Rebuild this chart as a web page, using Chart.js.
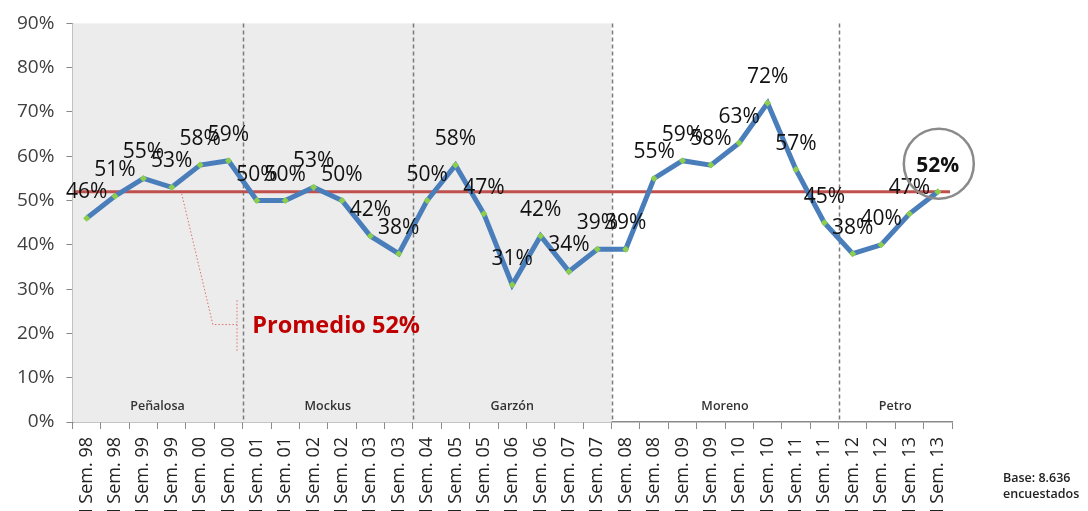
<!DOCTYPE html>
<html>
<head>
<meta charset="utf-8">
<script src="https://cdn.jsdelivr.net/npm/chart.js@4.4.0/dist/chart.umd.min.js"></script>
<style>
  html, body { margin: 0; padding: 0; background: #fff; overflow: hidden; }
  #wrap { position: relative; width: 1088px; height: 511px; }
</style>
</head>
<body>
<div id="wrap"><canvas id="chart"></canvas></div>
<script>
// data
var labels = ['I Sem. 98','II Sem. 98','I Sem. 99','II Sem. 99','I Sem. 00','II Sem. 00',
  'I Sem. 01','II Sem. 01','I Sem. 02','II Sem. 02','I Sem. 03','II Sem. 03',
  'II Sem. 04','I Sem. 05','II Sem. 05','I Sem. 06','II Sem. 06','I Sem. 07','II Sem. 07',
  'I Sem. 08','II Sem. 08','I Sem. 09','II Sem. 09','I Sem. 10','II Sem. 10','I Sem. 11','II Sem. 11',
  'I Sem. 12','II Sem. 12','I Sem. 13','II Sem. 13'];
var values = [46,51,55,53,58,59, 50,50,53,50,42,38, 50,58,47,31,42,34,39, 39,55,59,58,63,72,57,45, 38,40,47,52];
var promedio = 52;
var periods = ['Peñalosa','Mockus','Garzón','Moreno','Petro'];
var periodStarts = [0, 6, 12, 19, 27];
var shadedUntil = 19; // first three periods have grey background
var yTicks = [0,10,20,30,40,50,60,70,80,90];

var font = '"Open Sans", "Liberation Sans", sans-serif';

var decor = {
  id: 'decor',
  beforeDatasetsDraw: function(chart) {
    var ctx = chart.ctx, a = chart.chartArea;
    var xs = chart.scales.x, ys = chart.scales.y;
    ctx.save();
    // grey background
    var xb = xs.getPixelForValue(shadedUntil - 0.5);
    ctx.fillStyle = '#ececec';
    ctx.fillRect(a.left, a.top, xb - a.left, a.bottom - a.top);
    // dashed separators
    ctx.strokeStyle = '#7a7a7a';
    ctx.lineWidth = 1.5;
    ctx.setLineDash([4, 3]);
    for (var i = 1; i < periodStarts.length; i++) {
      var x = Math.round(xs.getPixelForValue(periodStarts[i] - 0.5)) + 0.5;
      ctx.beginPath();
      ctx.moveTo(x, a.top);
      ctx.lineTo(x, a.bottom);
      ctx.stroke();
    }
    ctx.setLineDash([]);
    // period names
    ctx.fillStyle = '#333';
    ctx.font = '600 12.5px ' + font;
    ctx.textAlign = 'center';
    ctx.textBaseline = 'middle';
    for (var j = 0; j < periods.length; j++) {
      var s = periodStarts[j] - 0.5;
      var e = (j + 1 < periodStarts.length ? periodStarts[j + 1] : values.length) - 0.5;
      var x0 = Math.max(xs.getPixelForValue(s), a.left);
      var x1 = Math.min(xs.getPixelForValue(e), a.right);
      ctx.fillText(periods[j], (x0 + x1) / 2, a.bottom - 16);
    }
    // average line
    var yp = ys.getPixelForValue(promedio);
    ctx.strokeStyle = '#c0504d';
    ctx.lineWidth = 3;
    ctx.beginPath();
    ctx.moveTo(a.left + 2, yp);
    ctx.lineTo(a.right - 2, yp);
    ctx.stroke();
    ctx.restore();
  },
  afterDatasetsDraw: function(chart) {
    var ctx = chart.ctx, a = chart.chartArea;
    var xs = chart.scales.x, ys = chart.scales.y;
    var meta = chart.getDatasetMeta(0);
    ctx.save();
    ctx.textAlign = 'center';
    ctx.textBaseline = 'middle';
    ctx.fillStyle = '#111';
    meta.data.forEach(function(p, i) {
      var last = i === values.length - 1;
      ctx.font = (last ? 'bold ' : '') + '21px ' + font;
      ctx.fillText(values[i] + '%', p.x, p.y - 26);
    });
    // circle round the last value
    var lp = meta.data[values.length - 1];
    ctx.strokeStyle = '#8a8a8a';
    ctx.lineWidth = 2.5;
    ctx.beginPath();
    ctx.arc(lp.x + 1, lp.y - 28, 35, 0, Math.PI * 2);
    ctx.stroke();

    // "Promedio" call-out
    ctx.strokeStyle = '#e07070';
    ctx.lineWidth = 1;
    ctx.setLineDash([1.5, 2]);
    ctx.beginPath();
    ctx.moveTo(xs.getPixelForValue(3.35), ys.getPixelForValue(promedio) + 2);
    ctx.lineTo(xs.getPixelForValue(4.45), ys.getPixelForValue(22));
    ctx.lineTo(xs.getPixelForValue(5.3), ys.getPixelForValue(22));
    ctx.moveTo(xs.getPixelForValue(5.3), ys.getPixelForValue(27.5));
    ctx.lineTo(xs.getPixelForValue(5.3), ys.getPixelForValue(16));
    ctx.stroke();
    ctx.setLineDash([]);
    ctx.fillStyle = '#c00000';
    ctx.font = 'bold 23.5px ' + font;
    ctx.textAlign = 'left';
    ctx.fillText('Promedio ' + promedio + '%', xs.getPixelForValue(5.84), ys.getPixelForValue(21.5));

    // base note
    ctx.fillStyle = '#222';
    ctx.font = '600 12.5px ' + font;
    ctx.fillText('Base: 8.636', 1003, 478);
    ctx.fillText('encuestados', 1003, 494);
    ctx.restore();
  }
};

new Chart(document.getElementById('chart'), {
  type: 'line',
  data: {
    labels: labels,
    datasets: [{
      data: values,
      borderColor: '#4a7ebb',
      borderWidth: 5,
      tension: 0,
      pointStyle: 'rectRot',
      pointRadius: 3.5,
      pointBackgroundColor: '#8ccf4d',
      pointBorderColor: '#8ccf4d',
      pointBorderWidth: 0
    }]
  },
  options: {
    responsive: true,
    maintainAspectRatio: false,
    animation: false,
    events: [],
    layout: { padding: { left: 5, right: 136, top: 16, bottom: 0 } },
    plugins: { legend: { display: false }, tooltip: { enabled: false } },
    scales: {
      y: {
        min: 0, max: 90,
        afterBuildTicks: function(s) { s.ticks = yTicks.map(function(v) { return { value: v }; }); },
        ticks: { color: '#404040', font: { family: font, size: 19 }, padding: 12,
          callback: function(v) { return v + '%'; } },
        grid: { drawOnChartArea: false, drawTicks: true, tickLength: 6, color: '#8a8a8a' },
        border: { color: '#8a8a8a', width: 1.5 }
      },
      x: {
        offset: true,
        afterFit: function(s) { s.height = 89; },
        ticks: { color: '#222', font: { family: font, size: 18 }, minRotation: 90, maxRotation: 90,
          autoSkip: false, padding: 8 },
        grid: { offset: true, drawOnChartArea: false, drawTicks: true, tickLength: 7, color: '#8a8a8a' },
        border: { color: '#8a8a8a', width: 1.5 }
      }
    }
  },
  plugins: [decor]
});
</script>
</body>
</html>
